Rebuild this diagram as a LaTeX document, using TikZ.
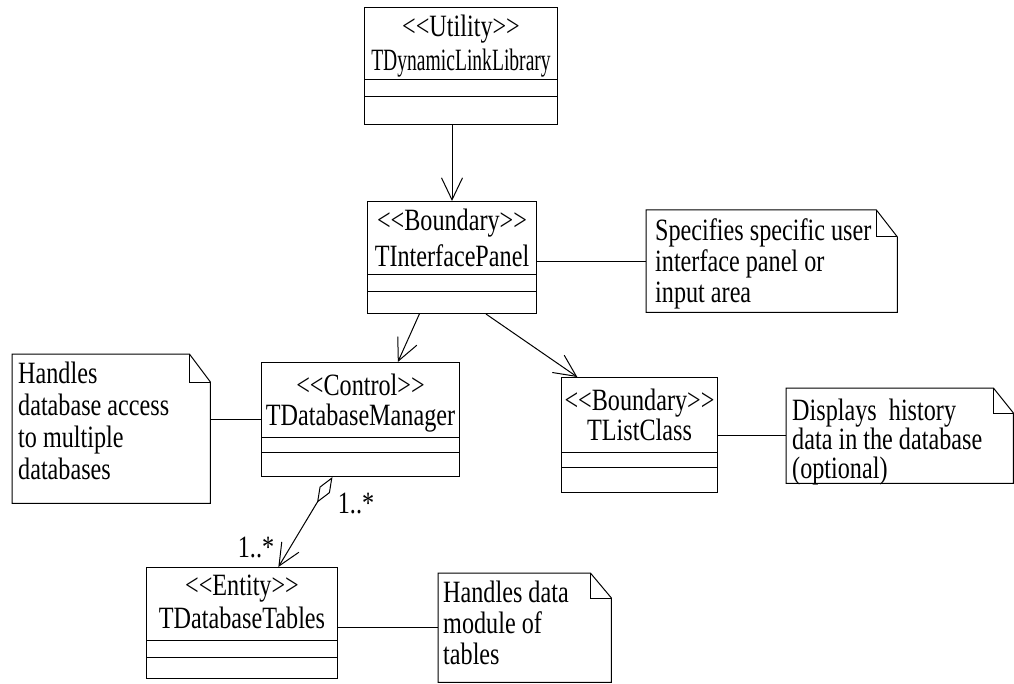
\documentclass[tikz,border=0pt]{standalone}
\usepackage{fontspec}
\setmainfont{Liberation Serif}[FakeStretch=0.78, Ligatures=TeXOff]
\usetikzlibrary{arrows.meta,calc}

% folded-corner note outline: #1 node, #2 ear width, #3 ear height
\newcommand\foldednote[3]{%
  \draw[link] (#1.north west) -- ($(#1.north east)+(-#2,0)$) -- ($(#1.north east)+(0,#3)$)
    -- (#1.south east) -- (#1.south west) -- cycle;
  \draw[link] ($(#1.north east)+(-#2,0)$) -- ($(#1.north east)+(-#2,#3)$) -- ($(#1.north east)+(0,#3)$);
}
% class compartment separators at offsets #2 and #3 below the top
\newcommand\compartments[3]{%
  \draw[link] ($(#1.north west)+(0,#2)$) -- ($(#1.north east)+(0,#2)$);
  \draw[link] ($(#1.north west)+(0,#3)$) -- ($(#1.north east)+(0,#3)$);
}

\tikzset{
  link/.style={line width=1pt},
  classbox/.style={draw, line width=1pt, inner sep=0pt, anchor=north west},
  notebox/.style={inner sep=0pt, anchor=north west},
  txt/.style={font=\fontsize{31}{31}\selectfont, inner sep=0pt, anchor=base},
  notetext/.style={font=\fontsize{31}{31}\selectfont, inner sep=0pt, anchor=north west, align=left},
  dep/.style={link, -{Straight Barb[length=22pt,width=21pt]}},
  agg/.style={link, {Diamond[open,length=30pt,width=12pt]}-{Straight Barb[length=22pt,width=20pt]}},
}

\begin{document}
\begin{tikzpicture}[x=1pt,y=-1pt]
\path[fill=white,use as bounding box] (0,0) rectangle (1014,684);

% ---- classes ----
\node[classbox, minimum width=193pt, minimum height=117pt] (dll) at (364,7) {};
\compartments{dll}{73}{90}
\node[txt] (dllst) at ($(dll.north)+(0,30)$) {<<Utility>>};
\node[txt] (dllnm) at ($(dll.north)+(0,64)$) {\scalebox{0.81}[1]{TDynamicLinkLibrary}};

\node[classbox, minimum width=169pt, minimum height=112pt] (tip) at (367,201) {};
\compartments{tip}{74}{91}
\node[txt] (tipst) at ($(tip.north)+(0,30)$) {<<Boundary>>};
\node[txt] (tipnm) at ($(tip.north)+(0,66)$) {TInterfacePanel};

\node[classbox, minimum width=198pt, minimum height=114pt] (tdm) at (261,362) {};
\compartments{tdm}{75}{90}
\node[txt] (tdmst) at ($(tdm.north)+(0,33)$) {<<Control>>};
\node[txt] (tdmnm) at ($(tdm.north)+(0,63)$) {TDatabaseManager};

\node[classbox, minimum width=156pt, minimum height=115pt] (tlc) at (561,377) {};
\compartments{tlc}{75}{90}
\node[txt] (tlcst) at ($(tlc.north)+(0,33)$) {<<Boundary>>};
\node[txt] (tlcnm) at ($(tlc.north)+(0,63)$) {TListClass};

\node[classbox, minimum width=191pt, minimum height=111pt] (tdt) at (146,567) {};
\compartments{tdt}{73}{90}
\node[txt] (tdtst) at ($(tdt.north)+(0,28)$) {<<Entity>>};
\node[txt] (tdtnm) at ($(tdt.north)+(0,61)$) {TDatabaseTables};

% ---- notes ----
\node[notebox, minimum width=251pt, minimum height=102pt] (spec) at (646,210) {};
\foldednote{spec}{21}{27}
\node[notetext] (spectx) at (655,218) {\rule{0pt}{22pt}Specifies specific user\\interface panel or\\input area};

\node[notebox, minimum width=198pt, minimum height=149pt] (hdl) at (12,354) {};
\foldednote{hdl}{21}{28}
\node[notetext, font=\fontsize{31}{32}\selectfont] (hdltx) at (18,361) {\rule{0pt}{22pt}Handles\\database access\\to multiple\\databases};

\node[notebox, minimum width=227pt, minimum height=95pt] (disp) at (786,388) {};
\foldednote{disp}{20}{25}
\node[notetext, font=\fontsize{31}{29}\selectfont] (disptx) at (792,398) {\rule{0pt}{22pt}Displays\ \ history\\data in the database\\(optional)};

\node[notebox, minimum width=173pt, minimum height=109pt] (hdata) at (438,573) {};
\foldednote{hdata}{21}{25}
\node[notetext] (hdatatx) at (443,580) {\rule{0pt}{22pt}Handles data\\module of\\tables};

% ---- relationships ----
\draw[dep] (tip.north |- dll.south) -- (tip.north);
\draw[dep] (tip.240) -- (tdm.57);
\draw[dep] (tip.301) -- (tlc.137);
\draw[agg] (tdm.244) -- (tdt.57);
\node[txt] (mult1) at (356,513) {1..*};
\node[txt] (mult2) at (256,557) {1..*};

% ---- note anchors ----
\draw[link] (tip.east |- spec.west) -- (spec.west);
\draw[link] (hdl.east |- tdm.west) -- (tdm.west);
\draw[link] (tlc.east |- disp.west) -- (disp.west);
\draw[link] (tdt.east |- hdata.west) -- (hdata.west);
\end{tikzpicture}
\end{document}
